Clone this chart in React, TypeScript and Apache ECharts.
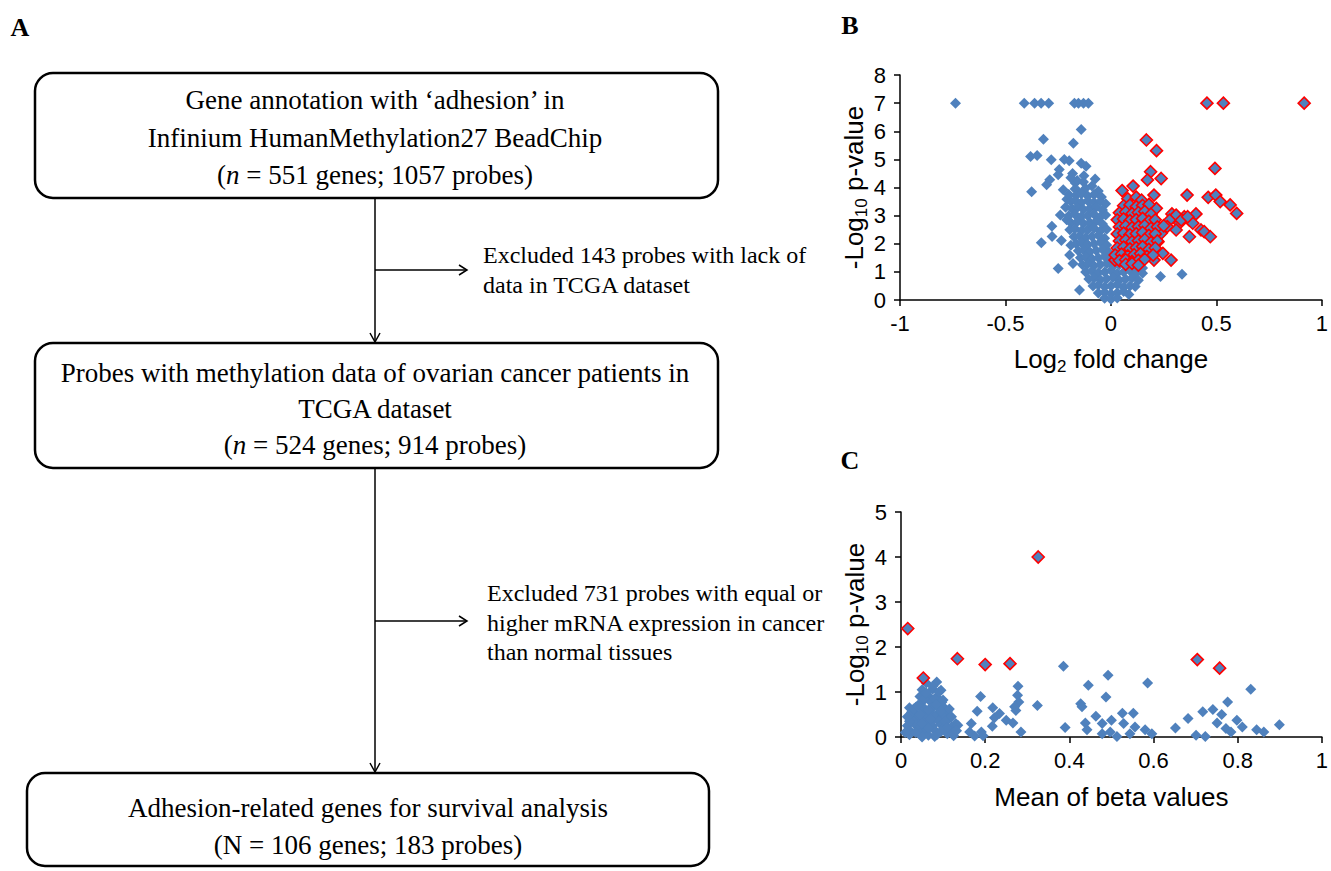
import React, { useEffect, useRef } from "react";
import * as echarts from "echarts";

// ---------- Panel B: volcano plot (log2 fold change vs -log10 p) ----------
const bBlue: number[][] = [
  [-0.737, 7], [-0.411, 7], [-0.362, 7], [-0.331, 7], [-0.295, 7], [-0.173, 7], [-0.154, 7], [-0.13, 7], [-0.107, 7],
  [-0.141, 6.06], [-0.32, 5.72], [-0.178, 5.57], [-0.381, 5.1], [-0.35, 5.14], [-0.283, 4.99], [-0.221, 5.0],
  [-0.198, 4.95], [-0.141, 4.86], [-0.118, 4.76], [-0.245, 4.64], [-0.25, 4.45], [-0.182, 4.5], [-0.128, 4.42],
  [-0.075, 4.3], [-0.29, 4.28], [-0.305, 4.1], [-0.226, 3.92], [-0.376, 3.85], [-0.169, 4.16], [-0.155, 3.86],
  [-0.209, 3.58], [-0.24, 3.02], [-0.28, 2.62], [-0.279, 2.26], [-0.33, 2.04], [-0.235, 2.12], [-0.196, 1.6],
  [-0.25, 1.12], [-0.149, 0.36], [0.235, 0.84], [0.337, 0.92], [-0.215, 3.3], [-0.21, 2.85], [-0.19, 1.95],
  [-0.18, 1.3], [-0.16, 4.25], [-0.09, 4.05], [-0.06, 3.88], [-0.19, 4.35], [-0.13, 4.2],
  [-0.17, 3.95], [-0.12, 3.97],
  [-0.2, 3.75], [-0.165, 3.72], [-0.14, 3.78], [-0.11, 3.7], [-0.08, 3.75], [-0.045, 3.66],
  [-0.19, 3.5], [-0.17, 3.55], [-0.14, 3.47], [-0.11, 3.53], [-0.08, 3.48], [-0.05, 3.5], [-0.025, 3.42],
  [-0.185, 3.25], [-0.16, 3.28], [-0.13, 3.22], [-0.1, 3.26], [-0.07, 3.3], [-0.04, 3.2],
  [-0.2, 3.0], [-0.17, 3.04], [-0.14, 2.97], [-0.11, 3.0], [-0.08, 3.05], [-0.05, 2.96], [-0.025, 3.02],
  [-0.19, 2.75], [-0.16, 2.78], [-0.13, 2.72], [-0.1, 2.76], [-0.07, 2.8], [-0.04, 2.7],
  [-0.195, 2.5], [-0.17, 2.53], [-0.14, 2.46], [-0.11, 2.5], [-0.08, 2.55], [-0.05, 2.45], [-0.02, 2.52],
  [-0.175, 2.25], [-0.15, 2.28], [-0.12, 2.22], [-0.09, 2.26], [-0.06, 2.3], [-0.03, 2.2],
  [-0.165, 2.0], [-0.14, 2.04], [-0.11, 1.97], [-0.08, 2.0], [-0.05, 2.05], [-0.02, 1.96],
  [-0.155, 1.75], [-0.13, 1.78], [-0.1, 1.72], [-0.07, 1.76], [-0.04, 1.8], [-0.01, 1.7],
  [-0.145, 1.5], [-0.12, 1.53], [-0.09, 1.47], [-0.06, 1.5], [-0.03, 1.55], [0.0, 1.45], [0.03, 1.5],
  [-0.135, 1.25], [-0.11, 1.28], [-0.08, 1.22], [-0.05, 1.26], [-0.02, 1.3], [0.01, 1.2], [0.04, 1.25],
  [0.08, 1.22], [0.12, 1.18], [0.15, 1.14],
  [-0.12, 1.0], [-0.09, 1.03], [-0.06, 0.97], [-0.03, 1.0], [0.0, 1.05], [0.03, 0.95], [0.06, 1.0],
  [0.09, 1.04], [0.12, 0.97], [0.15, 0.95],
  [-0.105, 0.75], [-0.08, 0.78], [-0.05, 0.72], [-0.02, 0.76], [0.01, 0.8], [0.04, 0.7], [0.07, 0.75],
  [0.1, 0.78], [0.13, 0.7],
  [-0.085, 0.5], [-0.06, 0.53], [-0.03, 0.47], [0.0, 0.5], [0.03, 0.55], [0.06, 0.45], [0.09, 0.5], [0.115, 0.48],
  [-0.06, 0.25], [-0.03, 0.28], [0.0, 0.22], [0.03, 0.26], [0.06, 0.3], [0.085, 0.2],
  [-0.03, 0.06], [0.0, 0.03], [0.03, 0.07]
];

const bRed: number[][] = [
  [0.455, 7], [0.533, 7], [0.916, 7],
  [0.053, 3.89], [0.105, 4.05], [0.168, 5.69], [0.216, 5.31], [0.188, 4.56], [0.173, 4.27], [0.238, 4.32],
  [0.204, 3.73], [0.215, 3.26], [0.361, 3.73], [0.493, 4.68], [0.461, 3.65], [0.497, 3.73], [0.518, 3.5],
  [0.565, 3.38], [0.596, 3.08], [0.403, 3.06], [0.348, 2.96], [0.325, 2.73], [0.289, 3.06], [0.309, 3.02],
  [0.278, 2.84], [0.267, 2.61], [0.309, 2.49], [0.372, 2.25], [0.427, 2.49], [0.442, 2.43], [0.471, 2.25],
  [0.238, 2.37], [0.223, 2.07], [0.204, 1.72], [0.246, 1.66], [0.285, 1.42], [0.204, 1.42], [0.019, 1.42],
  [0.372, 2.84], [0.388, 2.73], [0.333, 2.84], [0.364, 2.96],
  [0.08, 3.6], [0.12, 3.66], [0.145, 3.55],
  [0.06, 3.35], [0.09, 3.38], [0.12, 3.32], [0.15, 3.36], [0.18, 3.4],
  [0.04, 3.1], [0.07, 3.13], [0.1, 3.07], [0.13, 3.11], [0.16, 3.15], [0.19, 3.05],
  [0.03, 2.85], [0.06, 2.88], [0.09, 2.82], [0.12, 2.86], [0.15, 2.9], [0.18, 2.8], [0.21, 2.85],
  [0.04, 2.6], [0.07, 2.63], [0.1, 2.57], [0.13, 2.61], [0.16, 2.65], [0.19, 2.55], [0.22, 2.6], [0.25, 2.64],
  [0.03, 2.35], [0.06, 2.38], [0.09, 2.32], [0.12, 2.36], [0.15, 2.4], [0.18, 2.3], [0.21, 2.35],
  [0.04, 2.1], [0.07, 2.13], [0.1, 2.07], [0.13, 2.11], [0.16, 2.15], [0.19, 2.05], [0.22, 2.1],
  [0.03, 1.85], [0.06, 1.88], [0.09, 1.82], [0.12, 1.86], [0.15, 1.9], [0.18, 1.8], [0.21, 1.85],
  [0.02, 1.6], [0.05, 1.63], [0.08, 1.57], [0.11, 1.61], [0.14, 1.65], [0.17, 1.55], [0.2, 1.6],
  [0.04, 1.4], [0.07, 1.43], [0.1, 1.37], [0.13, 1.41], [0.16, 1.45],
  [0.07, 1.27], [0.1, 1.3], [0.13, 1.24]
];

// ---------- Panel C: mean beta vs -log10 p ----------
const cBlue: number[][] = [
  [0.386, 1.57], [0.324, 0.7], [0.39, 0.21], [0.492, 1.37], [0.445, 1.15], [0.487, 0.89], [0.586, 1.2],
  [0.831, 1.06], [0.776, 0.78], [0.427, 0.74], [0.43, 0.67], [0.463, 0.46], [0.438, 0.31], [0.442, 0.16],
  [0.478, 0.3], [0.5, 0.37], [0.478, 0.07], [0.513, 0.01], [0.526, 0.53], [0.529, 0.3], [0.552, 0.53],
  [0.556, 0.22], [0.544, 0.07], [0.58, 0.16], [0.596, 0.07], [0.497, 0.11], [0.652, 0.2], [0.682, 0.41],
  [0.701, 0.04], [0.717, 0.56], [0.723, 0.01], [0.741, 0.61], [0.751, 0.31], [0.762, 0.5], [0.772, 0.19],
  [0.784, 0.11], [0.798, 0.37], [0.811, 0.22], [0.845, 0.16], [0.862, 0.11], [0.899, 0.27],
  [0.189, 0.9], [0.181, 0.57], [0.167, 0.3], [0.163, 0.11], [0.191, 0.11], [0.218, 0.65], [0.222, 0.43],
  [0.217, 0.24], [0.234, 0.52], [0.25, 0.37], [0.266, 0.31], [0.278, 1.13], [0.277, 0.93], [0.28, 0.78],
  [0.273, 0.59], [0.27, 0.67], [0.285, 0.11], [0.195, 0.03], [0.175, 0.02],
  [0.06, 1.2], [0.085, 1.22], [0.05, 1.05], [0.075, 1.06], [0.095, 1.04],
  [0.045, 0.9], [0.065, 0.91], [0.085, 0.89], [0.05, 0.78], [0.07, 0.79], [0.097, 0.77],
  [0.02, 0.65], [0.035, 0.66], [0.055, 0.64], [0.075, 0.65], [0.09, 0.67], [0.105, 0.63],
  [0.03, 0.55], [0.05, 0.56], [0.07, 0.54], [0.09, 0.55], [0.11, 0.57],
  [0.02, 0.45], [0.04, 0.46], [0.06, 0.44], [0.08, 0.45], [0.1, 0.47], [0.115, 0.43],
  [0.03, 0.35], [0.05, 0.36], [0.07, 0.34], [0.09, 0.35], [0.11, 0.37], [0.13, 0.3],
  [0.015, 0.25], [0.035, 0.26], [0.055, 0.24], [0.075, 0.25], [0.095, 0.27], [0.12, 0.23], [0.135, 0.26],
  [0.02, 0.15], [0.04, 0.16], [0.06, 0.14], [0.08, 0.15], [0.1, 0.17], [0.12, 0.13],
  [0.02, 0.05], [0.045, 0.06], [0.065, 0.04], [0.085, 0.05], [0.11, 0.07], [0.125, 0.03],
  [0.05, 0.0], [0.08, 0.01],
  [0.01, 0.1], [0.02, 0.35], [0.025, 0.55], [0.03, 0.62], [0.04, 0.7], [0.045, 0.5], [0.05, 0.3],
  [0.055, 0.85], [0.06, 0.98], [0.065, 0.6], [0.07, 0.4], [0.075, 1.12], [0.08, 0.85], [0.085, 0.72],
  [0.09, 1.0], [0.095, 0.58], [0.1, 0.82], [0.105, 0.35], [0.11, 0.2], [0.115, 0.62], [0.12, 0.45],
  [0.125, 0.1], [0.035, 0.1], [0.015, 0.45], [0.065, 0.2], [0.095, 0.12], [0.132, 0.14]
];

const cRed: number[][] = [
  [0.016, 2.41], [0.053, 1.31], [0.134, 1.74], [0.2, 1.61], [0.259, 1.63], [0.326, 4.0], [0.704, 1.72], [0.757, 1.53]
];

// ---------- Axis ranges ----------
const bX = { min: -1, max: 1, interval: 0.5 };
const bY = { min: 0, max: 8, interval: 1 };
const cX = { min: 0, max: 1, interval: 0.2 };
const cY = { min: 0, max: 5, interval: 1 };

// ---------- Flowchart texts ----------
const box1Lines = ["Gene annotation with \u2018adhesion\u2019 in", "Infinium HumanMethylation27 BeadChip", "({i|n} = 551 genes; 1057 probes)"];
const box2Lines = ["Probes with methylation data of ovarian cancer patients in", "TCGA dataset", "({i|n} = 524 genes; 914 probes)"];
const box3Lines = ["Adhesion-related genes for survival analysis", "(N = 106 genes; 183 probes)"];
const excl1Lines = ["Excluded 143 probes with lack of", "data in TCGA dataset"];
const excl2Lines = ["Excluded 731 probes with equal or", "higher mRNA expression in cancer", "than normal tissues"];

const BLUE = "#4F81BD";
const SERIF = "'Liberation Serif', 'Times New Roman', serif";
const SANS = "'Liberation Sans', Arial, sans-serif";

function stext(x: number, y: number, text: string, size: number, align: string = "center", bold = false) {
  return {
    type: "text",
    x,
    y,
    style: {
      text,
      fontSize: size,
      fontFamily: SERIF,
      fontWeight: bold ? "bold" : "normal",
      fill: "#000",
      textAlign: align,
      textVerticalAlign: "middle",
      rich: {
        i: { fontStyle: "italic", fontSize: size, fontFamily: SERIF, fill: "#000" }
      }
    }
  };
}

function box(x: number, y: number, w: number, h: number) {
  return {
    type: "rect",
    shape: { x, y, width: w, height: h, r: 18 },
    style: { fill: "none", stroke: "#000", lineWidth: 2.5 }
  };
}

function line(x1: number, y1: number, x2: number, y2: number) {
  return { type: "line", shape: { x1, y1, x2, y2 }, style: { stroke: "#000", lineWidth: 1.5 } };
}

function head(points: number[][]) {
  return { type: "polyline", shape: { points }, style: { stroke: "#000", lineWidth: 1.5, fill: "none" } };
}

function axisName() {
  return {
    fontSize: 26,
    fontFamily: SANS,
    color: "#000",
    rich: {
      n: { fontSize: 26, fontFamily: SANS, color: "#000", lineHeight: 32 },
      s: { fontSize: 17, fontFamily: SANS, color: "#000", lineHeight: 14, verticalAlign: "bottom" }
    }
  };
}

const axisCommon = {
  axisLine: { show: true, onZero: false, lineStyle: { color: "#000", width: 1.5 } },
  axisTick: { show: true, length: 6, lineStyle: { color: "#000", width: 1.5 } },
  splitLine: { show: false }
};

export default function App() {
  const ref = useRef<HTMLDivElement>(null);
  useEffect(() => {
    if (!ref.current) return;
    const chart = echarts.init(ref.current, undefined, { renderer: "svg" });
    const CX = 375;
    const graphic: any[] = [
      stext(20, 27, "A", 26, "center", true),
      stext(850, 25, "B", 26, "center", true),
      stext(850, 460, "C", 26, "center", true),
      box(35, 73, 683, 125),
      ...box1Lines.map((t, i) => stext(CX, 100 + i * 37.5, t, 27)),
      box(35, 343, 683, 125),
      ...box2Lines.map((t, i) => stext(CX, 373 + i * 36, t, 27)),
      box(27, 773, 682, 93),
      ...box3Lines.map((t, i) => stext(368, 808 + i * 37, t, 27)),
      line(CX, 198, CX, 342),
      head([[CX - 5, 333], [CX, 342], [CX + 5, 333]]),
      line(CX, 270, 467, 270),
      head([[459, 265], [467, 270], [459, 275]]),
      ...excl1Lines.map((t, i) => stext(483, 255 + i * 30, t, 24, "left")),
      line(CX, 468, CX, 772),
      head([[CX - 5, 763], [CX, 772], [CX + 5, 763]]),
      line(CX, 621, 467, 621),
      head([[459, 616], [467, 621], [459, 626]]),
      ...excl2Lines.map((t, i) => stext(487, 593 + i * 29.5, t, 24, "left"))
    ];

    const xLabel = { color: "#000", fontSize: 22, fontFamily: SANS, margin: 12 };
    const yLabel = { color: "#000", fontSize: 22, fontFamily: SANS, margin: 14 };
    chart.setOption({
      animation: false,
      backgroundColor: "#fff",
      graphic,
      grid: [
        { left: 900, top: 75, width: 425, height: 225 },
        { left: 901, top: 512, width: 424, height: 225 }
      ],
      xAxis: [
        {
          ...axisCommon, axisLabel: xLabel, gridIndex: 0, type: "value", ...bX,
          name: "{n|Log}{s|2}{n| fold change}", nameLocation: "middle", nameGap: 43,
          nameTextStyle: axisName()
        },
        {
          ...axisCommon, axisLabel: xLabel, gridIndex: 1, type: "value", ...cX,
          name: "{n|Mean of beta values}", nameLocation: "middle", nameGap: 44,
          nameTextStyle: axisName()
        }
      ],
      yAxis: [
        {
          ...axisCommon, axisLabel: yLabel, gridIndex: 0, type: "value", ...bY,
          name: "{n|-Log}{s|10}{n| p-value}", nameLocation: "middle", nameGap: 28, nameRotate: 90,
          nameTextStyle: axisName()
        },
        {
          ...axisCommon, axisLabel: yLabel, gridIndex: 1, type: "value", ...cY,
          name: "{n|-Log}{s|10}{n| p-value}", nameLocation: "middle", nameGap: 28, nameRotate: 90,
          nameTextStyle: axisName()
        }
      ],
      series: [
        { type: "scatter", xAxisIndex: 0, yAxisIndex: 0, data: bBlue, symbol: "diamond", symbolSize: 11, itemStyle: { color: BLUE, opacity: 1 } },
        { type: "scatter", xAxisIndex: 0, yAxisIndex: 0, data: bRed, symbol: "diamond", symbolSize: 12, itemStyle: { color: BLUE, borderColor: "#FF0000", borderWidth: 1.6, opacity: 1 } },
        { type: "scatter", xAxisIndex: 1, yAxisIndex: 1, data: cBlue, symbol: "diamond", symbolSize: 11, itemStyle: { color: BLUE, opacity: 1 } },
        { type: "scatter", xAxisIndex: 1, yAxisIndex: 1, data: cRed, symbol: "diamond", symbolSize: 12, itemStyle: { color: BLUE, borderColor: "#FF0000", borderWidth: 1.6, opacity: 1 } }
      ]
    });
    return () => chart.dispose();
  }, []);
  return <div ref={ref} style={{ position: "absolute", left: 0, top: 0, width: 1331, height: 871 }} />;
}
